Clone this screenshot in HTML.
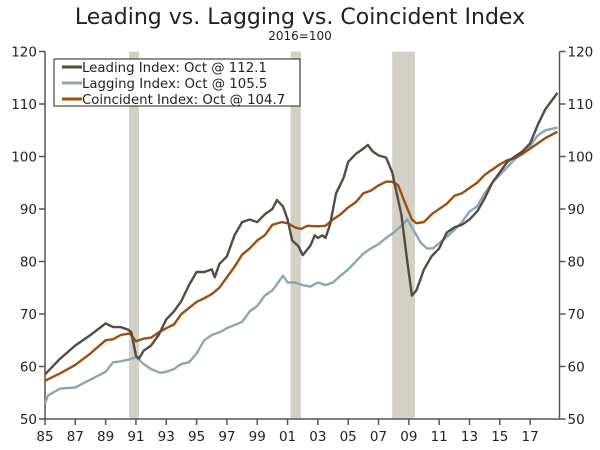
<!DOCTYPE html>
<html><head><meta charset="utf-8"><style>
body{margin:0;background:#fff;}
svg text{font-family:"DejaVu Sans","Liberation Sans",sans-serif;fill:#222;}
</style></head><body>
<svg width="600" height="445" viewBox="0 0 600 445">
<text x="300" y="24" text-anchor="middle" font-size="22">Leading vs. Lagging vs. Coincident Index</text>
<text x="300" y="40" text-anchor="middle" font-size="12">2016=100</text>
<g id="rec"></g><g id="axes"></g><g id="lines"></g>
<g>
<rect x="54" y="59" width="246" height="47" fill="#fff" stroke="#222" stroke-width="1"/>
<line x1="62" y1="67" x2="82" y2="67" stroke="#544b42" stroke-width="3"/>
<text x="82" y="72" font-size="13.3">Leading Index: Oct @ 112.1</text>
<line x1="62" y1="83" x2="82" y2="83" stroke="#8aa6b8" stroke-width="3"/>
<text x="82" y="88" font-size="13.3">Lagging Index: Oct @ 105.5</text>
<line x1="62" y1="99" x2="82" y2="99" stroke="#9c4f0e" stroke-width="3"/>
<text x="82" y="104" font-size="13.3">Coincident Index: Oct @ 104.7</text>
</g>
</svg>
<script>
const recessions=[[1990.55,1991.2],[2001.2,2001.88],[2007.9,2009.4]];
const yTicks=[50,60,70,80,90,100,110,120];
const xTickYears=[1985,1987,1989,1991,1993,1995,1997,1999,2001,2003,2005,2007,2009,2011,2013,2015,2017];
const leadT=[1985,1986,1987,1988,1989,1989.5,1990,1990.5,1990.7,1991,1991.2,1991.5,1992,1992.5,1993,1993.5,1994,1994.5,1995,1995.5,1996,1996.2,1996.5,1997,1997.5,1998,1998.5,1999,1999.5,2000,2000.3,2000.7,2001,2001.3,2001.7,2002,2002.5,2002.8,2003,2003.3,2003.5,2003.8,2004.2,2004.7,2005,2005.5,2006,2006.3,2006.6,2007,2007.5,2007.9,2008.2,2008.5,2008.9,2009.2,2009.5,2010,2010.5,2011,2011.5,2012,2012.5,2013,2013.5,2014,2014.5,2015,2015.5,2016,2016.5,2017,2017.5,2018,2018.8];
const leadV=[58.5,61.5,64,66,68.2,67.5,67.5,67,66.5,62,61.5,63,64,66,69,70.5,72.5,75.5,78,78,78.5,77,79.5,81,85,87.5,88,87.5,89,90,91.7,90.5,88,84,83,81.2,83,85,84.5,85,84.5,87,93,96,99,100.5,101.5,102.2,101,100.2,99.8,97,93,89,80,73.5,74.5,78.5,81,82.5,85.5,86.5,87,88,89.5,92,95,97,99,100,101,102.5,106,109,112.1];
const lagT=[1985,1985.2,1986,1987,1988,1989,1989.5,1990,1990.5,1991,1991.5,1992,1992.6,1993,1993.5,1994,1994.5,1995,1995.5,1996,1996.5,1997,1998,1998.5,1999,1999.5,2000,2000.5,2000.7,2001,2001.5,2002,2002.5,2003,2003.5,2004,2004.5,2005,2005.5,2006,2006.5,2007,2007.5,2008,2008.5,2008.9,2009.3,2009.8,2010.2,2010.6,2011,2011.5,2012,2012.5,2013,2013.5,2014,2014.5,2015,2015.5,2016,2016.5,2017,2017.5,2018,2018.8];
const lagV=[53,54.5,55.8,56,57.5,59,60.8,61,61.3,61.8,60.5,59.5,58.8,59,59.5,60.5,60.8,62.5,65,66,66.5,67.3,68.5,70.5,71.5,73.5,74.5,76.5,77.3,76,76,75.5,75.2,76,75.5,76,77.3,78.5,80,81.5,82.5,83.3,84.5,85.5,86.8,88,86,83.5,82.5,82.5,83.5,84.7,86,87.5,89.5,90.5,93,95,96.5,98,99.5,101,102,104,105,105.5];
const coinT=[1985,1986,1987,1988,1989,1989.5,1990,1990.6,1991,1991.5,1992,1992.5,1993,1993.5,1994,1995,1995.5,1996,1996.5,1997,1997.5,1998,1998.5,1999,1999.5,2000,2000.6,2001,2001.5,2001.9,2002.3,2003,2003.5,2004,2004.5,2005,2005.5,2006,2006.5,2007,2007.5,2007.9,2008.3,2008.7,2009.2,2009.5,2010,2010.5,2011,2011.5,2012,2012.5,2013,2013.5,2014,2014.5,2015,2015.5,2016,2016.5,2017,2017.5,2018,2018.8];
const coinV=[57.3,58.7,60.3,62.5,65,65.2,66,66.3,64.8,65.3,65.5,66.5,67.3,68,70,72.3,73,73.8,75,77,79,81.3,82.5,84,85,87,87.5,87.3,86.5,86.2,86.8,86.7,86.8,88,89,90.3,91.3,93,93.5,94.5,95.2,95.2,94.5,91.5,88,87.3,87.5,89,90,91,92.5,93,94,95,96.5,97.5,98.5,99.3,99.7,100.5,101.5,102.5,103.5,104.7];

const L=45,R=559.5,T=51.5,B=419;
const x=t=>L+(t-1985)*15.16;
const y=v=>B-(v-50)*(B-T)/70;
const NS='http://www.w3.org/2000/svg';
function mk(tag,attrs,parent){const e=document.createElementNS(NS,tag);for(const k in attrs)e.setAttribute(k,attrs[k]);parent.appendChild(e);return e;}
const rec=document.getElementById('rec'),ax=document.getElementById('axes'),ln=document.getElementById('lines');
recessions.forEach(r=>{const e=mk('rect',{x:x(r[0]),y:T,width:x(r[1])-x(r[0]),height:B-T,fill:'#d4d0c6'},rec);

});
let e=mk('path',{d:`M${L},${T}V${B}H${R}V${T}`,fill:'none',stroke:'#555','stroke-width':1.5},ax);


yTicks.forEach(v=>{
 mk('line',{x1:L-6,x2:L,y1:y(v),y2:y(v),stroke:'#555','stroke-width':1.5},ax);
 mk('line',{x1:R,x2:R+6,y1:y(v),y2:y(v),stroke:'#555','stroke-width':1.5},ax);
 const a=mk('text',{x:L-8,y:y(v)+5,'text-anchor':'end','font-size':13.5},ax);a.textContent=v;
 
 
 const b=mk('text',{x:R+8,y:y(v)+5,'font-size':13.5},ax);b.textContent=v;
 
 
});
xTickYears.forEach(t=>{
 mk('line',{x1:x(t),x2:x(t),y1:B,y2:B+6,stroke:'#555','stroke-width':1.5},ax);
 const a=mk('text',{x:x(t),y:B+22,'text-anchor':'middle','font-size':13.5},ax);a.textContent=String(t).slice(2);
 
 
});
function line(ts,vs,col,name){const d=ts.map((t,i)=>(i?'L':'M')+x(t).toFixed(1)+','+y(vs[i]).toFixed(1)).join('');
 const p=mk('path',{d:d,fill:'none',stroke:col,'stroke-width':2.4,'stroke-linejoin':'round'},ln);
 
 }
line(lagT,lagV,'#8aa6b8','lagging-line');
line(coinT,coinV,'#9c4f0e','coincident-line');
line(leadT,leadV,'#544b42','leading-line');
</script>
</body></html>
